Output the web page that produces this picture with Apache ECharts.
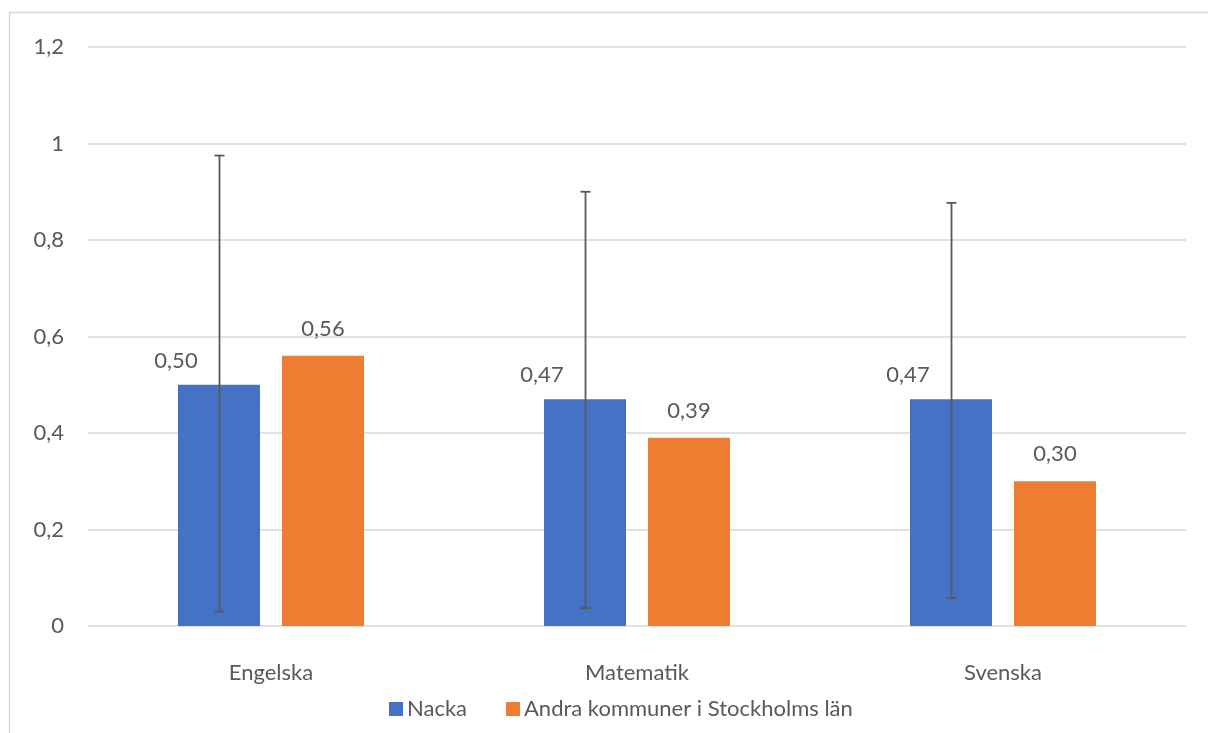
<!DOCTYPE html>
<html>
<head>
<meta charset="utf-8">
<script src="https://cdn.jsdelivr.net/npm/echarts@6/dist/echarts.min.js"></script>
<style>
html,body{margin:0;padding:0;background:#fff;}
#chart{width:1208px;height:733px;}
</style>
</head>
<body>
<div id="chart"></div>
<script>
var categories = ['Engelska', 'Matematik', 'Svenska'];
var nacka = [0.50, 0.47, 0.47];
var andra = [0.56, 0.39, 0.30];
var nackaErrLow = [0.030, 0.037, 0.058];
var nackaErrHigh = [0.975, 0.900, 0.877];
var seriesNames = ['Nacka', 'Andra kommuner i Stockholms län'];

var FONT = 'Lato';
var TEXT = '#595959';
var FS = 22;
var BAR_W = 82, BAR_GAP = 22;

var chart = echarts.init(document.getElementById('chart'), null, {renderer: 'canvas'});

function fmt(v) { return v.toFixed(2).replace('.', ','); }

var errData = categories.map(function (c, i) { return [i, nackaErrLow[i], nackaErrHigh[i]]; });

var option = {
  animation: false,
  backgroundColor: '#fff',
  textStyle: {fontFamily: FONT, color: TEXT},
  graphic: [{
    type: 'rect', silent: true, z: -1,
    shape: {x: 9.5, y: 12.5, width: 1400, height: 900},
    style: {fill: 'none', stroke: '#d9d9d9', lineWidth: 1.5}
  }],
  grid: {left: 88, right: 22, top: 47, bottom: 107, containLabel: false},
  legend: {
    left: 384, top: 693,
    itemWidth: 14, itemHeight: 14, itemGap: 39,
    icon: 'rect',
    textStyle: {fontFamily: FONT, fontSize: FS, color: TEXT, padding: [0, 0, 0, -1]},
    data: seriesNames
  },
  xAxis: {
    type: 'category',
    data: categories,
    axisLine: {show: false},
    axisTick: {show: false},
    axisLabel: {fontFamily: FONT, fontSize: FS, color: TEXT, margin: 36}
  },
  yAxis: {
    type: 'value',
    min: 0, max: 1.2, interval: 0.2,
    axisLine: {show: false},
    axisTick: {show: false},
    splitLine: {lineStyle: {color: '#d9d9d9', width: 1.5}},
    axisLabel: {
      fontFamily: FONT, fontSize: FS, color: TEXT, margin: 24,
      formatter: function (v) { return String(Math.round(v * 10) / 10).replace('.', ','); }
    }
  },
  series: [
    {
      name: seriesNames[0], type: 'bar', data: nacka,
      barWidth: BAR_W, barGap: (BAR_GAP / BAR_W * 100) + '%',
      itemStyle: {color: '#4472C4'},
      label: {
        show: true, position: 'top', distance: 13, offset: [-43, 0],
        fontFamily: FONT, fontSize: FS, color: TEXT,
        formatter: function (p) { return fmt(p.value); }
      }
    },
    {
      name: seriesNames[1], type: 'bar', data: andra,
      barWidth: BAR_W,
      itemStyle: {color: '#ED7D31'},
      label: {
        show: true, position: 'top', distance: 16,
        fontFamily: FONT, fontSize: FS, color: TEXT,
        formatter: function (p) { return fmt(p.value); }
      }
    },
    {
      name: 'err', type: 'custom', data: errData, z: 10,
      silent: true,
      renderItem: function (params, api) {
        var idx = api.value(0);
        var lo = api.coord([idx, api.value(1)]);
        var hi = api.coord([idx, api.value(2)]);
        var x = Math.round(lo[0] - (BAR_W + BAR_GAP) / 2) + 0.5;
        var cap = 5;
        var st = {stroke: '#595959', lineWidth: 1.8, fill: null};
        return {
          type: 'group',
          children: [
            {type: 'line', shape: {x1: x, y1: hi[1], x2: x, y2: lo[1]}, style: st},
            {type: 'line', shape: {x1: x - cap, y1: hi[1], x2: x + cap, y2: hi[1]}, style: st},
            {type: 'line', shape: {x1: x - cap, y1: lo[1], x2: x + cap, y2: lo[1]}, style: st}
          ]
        };
      }
    }
  ]
};
chart.setOption(option);
</script>
</body>
</html>
